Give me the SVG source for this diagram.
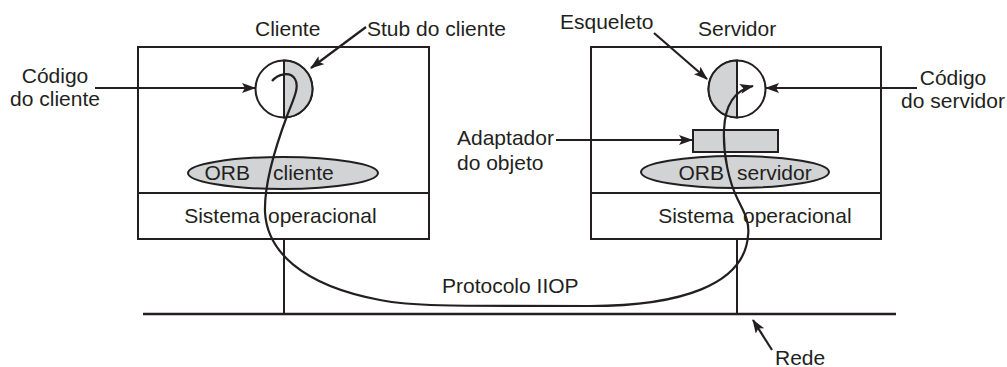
<svg xmlns="http://www.w3.org/2000/svg" width="1007" height="367" viewBox="0 0 1007 367">
<style>
text{font-family:"Liberation Sans",Arial,sans-serif;font-size:21px;fill:#231f20}
.box{fill:#fff;stroke:#231f20;stroke-width:2}
.g{fill:#d1d3d4;stroke:#231f20;stroke-width:2}
.w{fill:#fff;stroke:#231f20;stroke-width:2}
.ln{fill:none;stroke:#231f20;stroke-width:2}
.ar{fill:none;stroke:#231f20;stroke-width:2.2;marker-end:url(#ah)}
.c{text-anchor:middle}
.e{text-anchor:end}
</style>
<defs>
<marker id="ah" markerUnits="userSpaceOnUse" markerWidth="16" markerHeight="12" refX="13" refY="5" orient="auto">
<path d="M0,0 L14,5 L0,10 L3,5 z" fill="#231f20"/>
</marker>
</defs>
<g id="network">
<line x1="143" y1="314" x2="896" y2="314" stroke="#231f20" stroke-width="2.5"/>
<line x1="284" y1="239" x2="284" y2="314" class="ln"/>
<line x1="737" y1="239" x2="737" y2="314" class="ln"/>
</g>
<g id="client">
<rect x="138" y="47" width="291" height="192" class="box"/>
<line x1="138" y1="193" x2="429" y2="193" class="ln"/>
<ellipse cx="283" cy="173" rx="95" ry="16" class="g"/>
<circle cx="284" cy="89" r="28.5" class="w"/>
<path d="M284 60.5 A28.5 28.5 0 0 1 284 117.5 Z" class="g"/>
<line x1="284" y1="60" x2="284" y2="118" class="ln"/>
<text x="255" y="36">Cliente</text>
<text x="250" y="180" class="e">ORB</text>
<text x="273" y="180">cliente</text>
<text x="260" y="223" class="e">Sistema</text>
<text x="268" y="223">operacional</text>
</g>
<g id="server">
<rect x="591" y="47" width="290" height="192" class="box"/>
<line x1="591" y1="193" x2="881" y2="193" class="ln"/>
<ellipse cx="735" cy="172" rx="94" ry="16" class="g"/>
<rect x="693" y="130" width="85" height="22" class="g"/>
<circle cx="737" cy="89" r="28.5" class="w"/>
<path d="M737 60.5 A28.5 28.5 0 0 0 737 117.5 Z" class="g"/>
<line x1="737" y1="60" x2="737" y2="118" class="ln"/>
<text x="698" y="36">Servidor</text>
<text x="724" y="180" class="e">ORB</text>
<text x="737" y="180">servidor</text>
<text x="734" y="223" class="e">Sistema</text>
<text x="743" y="223">operacional</text>
</g>
<g id="labels">
<text x="55" y="83" class="c">Código</text>
<text x="55" y="106" class="c">do cliente</text>
<text x="367" y="36">Stub do cliente</text>
<text x="560" y="29">Esqueleto</text>
<text x="953" y="85" class="c">Código</text>
<text x="953" y="108" class="c">do servidor</text>
<text x="457" y="145">Adaptador</text>
<text x="457" y="170">do objeto</text>
<text x="442" y="293">Protocolo IIOP</text>
<text x="775" y="365">Rede</text>
</g>
<g id="connectors">
<path d="M95 88 L255 88" class="ar"/>
<path d="M366 27 L311 68" class="ar"/>
<path d="M654 33 L707 79" class="ar"/>
<path d="M917 88 L766 88" class="ar"/>
<path d="M556 140 L692 140" class="ar"/>
<path d="M772 350 L753 320" class="ar"/>
<path d="M272 81 C278 74 290 71 295 79 C300 87 293 100 287 116 C278 140 264 180 265 212 C267 250 300 285 380 300 C410 306 440 306 590 306 C680 306 744 285 748 236 C750 222 744 212 738 200 C729 182 723 155 724 130 C725 105 735 90 753 86" class="ar"/>
</g>
</svg>
